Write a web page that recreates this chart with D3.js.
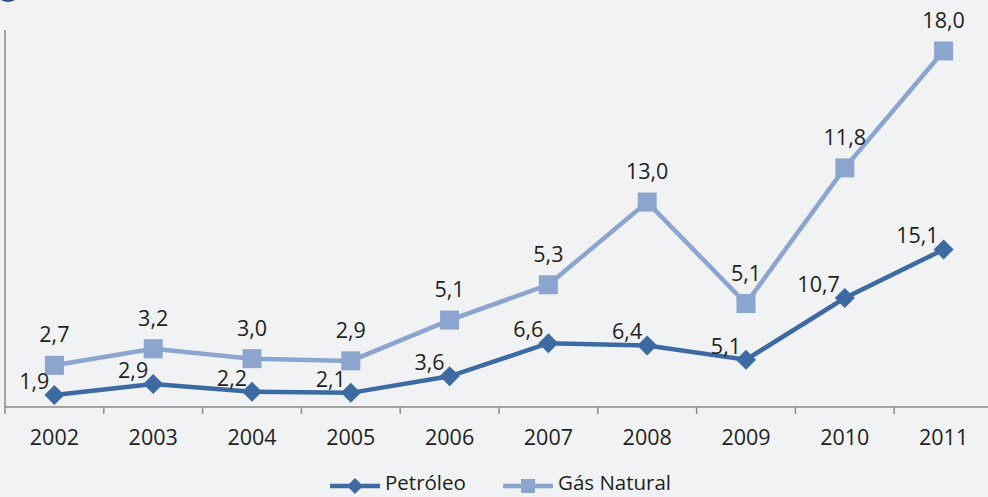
<!DOCTYPE html>
<html>
<head>
<meta charset="utf-8">
<script src="https://cdn.jsdelivr.net/npm/d3@7"></script>
<style>
  body { margin: 0; background: #f1f2f4; }
  svg { display: block; font-family: "Open Sans", "DejaVu Sans", sans-serif; }
</style>
</head>
<body>
<svg class="chart" width="988" height="497"></svg>
<script>
var years = ["2002", "2003", "2004", "2005", "2006", "2007", "2008", "2009", "2010", "2011"];
var petroleo = [1.9, 2.9, 2.2, 2.1, 3.6, 6.6, 6.4, 5.1, 10.7, 15.1];
var gasNatural = [2.7, 3.2, 3.0, 2.9, 5.1, 5.3, 13.0, 5.1, 11.8, 18.0];

var darkBlue = "#3d6aa3",
    lightBlue = "#8ba5cf",
    textColor = "#231f20",
    fontSize = 21.5;

var svg = d3.select(".chart"),
    width = +svg.attr("width"),
    height = +svg.attr("height");

svg.append("rect")
    .attr("width", width)
    .attr("height", height)
    .attr("fill", "#f1f2f4");

// bit of a logo peeking in at the top left corner
svg.append("ellipse")
    .attr("cx", 8).attr("cy", -4)
    .attr("rx", 9).attr("ry", 6)
    .attr("fill", "#2f4f8f");

var x = d3.scaleBand()
    .domain(years)
    .range([5, 993]);

// the gas series is stacked on top of oil
var stacked = gasNatural.map(function(d, i) { return d + petroleo[i]; });

var y = d3.scaleLinear()
    .domain([1, 35])
    .range([405, 30]);

var baseY = 407;

var fmt = function(v) { return d3.format(".1f")(v).replace(".", ","); };
var cx = function(d, i) { return x(years[i]) + x.bandwidth() / 2; };

// axes
svg.append("line")
    .attr("x1", 5).attr("x2", 5)
    .attr("y1", 30).attr("y2", baseY)
    .attr("stroke", "#8a8a8a").attr("stroke-width", 1.5);

var xAxis = svg.append("g")
    .attr("transform", "translate(0," + baseY + ")");

xAxis.append("line")
    .attr("x1", 5).attr("x2", width)
    .attr("stroke", "#8a8a8a").attr("stroke-width", 1.5);

xAxis.selectAll(".tick")
  .data(years)
  .enter().append("line")
    .attr("x1", function(d) { return x(d); })
    .attr("x2", function(d) { return x(d); })
    .attr("y1", 0).attr("y2", 7)
    .attr("stroke", "#8a8a8a").attr("stroke-width", 1.5);

xAxis.selectAll(".lab")
  .data(years)
  .enter().append("text")
    .attr("x", function(d) { return x(d) + x.bandwidth() / 2; })
    .attr("y", 38)
    .attr("text-anchor", "middle")
    .attr("font-size", fontSize)
    .attr("fill", textColor)
    .text(function(d) { return d; });

// lines
var line = d3.line()
    .x(cx)
    .y(function(d) { return y(d); });

svg.append("path")
    .datum(stacked)
    .attr("d", line)
    .attr("fill", "none")
    .attr("stroke", lightBlue)
    .attr("stroke-width", 4.5);

svg.append("path")
    .datum(petroleo)
    .attr("d", line)
    .attr("fill", "none")
    .attr("stroke", darkBlue)
    .attr("stroke-width", 4.5);

// markers
svg.selectAll(".sq")
  .data(stacked)
  .enter().append("rect")
    .attr("x", function(d, i) { return cx(d, i) - 9.5; })
    .attr("y", function(d) { return y(d) - 9.5; })
    .attr("width", 19).attr("height", 19)
    .attr("fill", lightBlue);

var diamond = d3.symbol().type(d3.symbolSquare).size(200);

svg.selectAll(".dm")
  .data(petroleo)
  .enter().append("path")
    .attr("d", diamond)
    .attr("transform", function(d, i) {
      return "translate(" + cx(d, i) + "," + y(d) + ") rotate(45)";
    })
    .attr("fill", darkBlue);

// value labels
svg.selectAll(".gl")
  .data(gasNatural)
  .enter().append("text")
    .attr("x", cx)
    .attr("y", function(d, i) { return y(stacked[i]) - 23; })
    .attr("text-anchor", "middle")
    .attr("font-size", fontSize)
    .attr("fill", textColor)
    .text(fmt);

svg.selectAll(".pl")
  .data(petroleo)
  .enter().append("text")
    .attr("x", function(d, i) { return cx(d, i) - 5; })
    .attr("y", function(d) { return y(d) - 6; })
    .attr("text-anchor", "end")
    .attr("font-size", fontSize)
    .attr("fill", textColor)
    .text(fmt);

// legend
var legend = svg.append("g")
    .attr("transform", "translate(0,486)");

var items = [
  {name: "Petróleo", color: darkBlue, x0: 330, marker: "diamond"},
  {name: "Gás Natural", color: lightBlue, x0: 503, marker: "square"}
];

items.forEach(function(it) {
  legend.append("line")
      .attr("x1", it.x0).attr("x2", it.x0 + 50)
      .attr("stroke", it.color).attr("stroke-width", 4.5);
  if (it.marker == "diamond") {
    legend.append("path")
        .attr("d", d3.symbol().type(d3.symbolSquare).size(130))
        .attr("transform", "translate(" + (it.x0 + 25) + ",0) rotate(45)")
        .attr("fill", it.color);
  } else {
    legend.append("rect")
        .attr("x", it.x0 + 18).attr("y", -7)
        .attr("width", 14).attr("height", 14)
        .attr("fill", it.color);
  }
  legend.append("text")
      .attr("x", it.x0 + 55)
      .attr("y", 4)
      .attr("font-size", fontSize - 1)
      .attr("fill", textColor)
      .text(it.name);
});
</script>
</body>
</html>
